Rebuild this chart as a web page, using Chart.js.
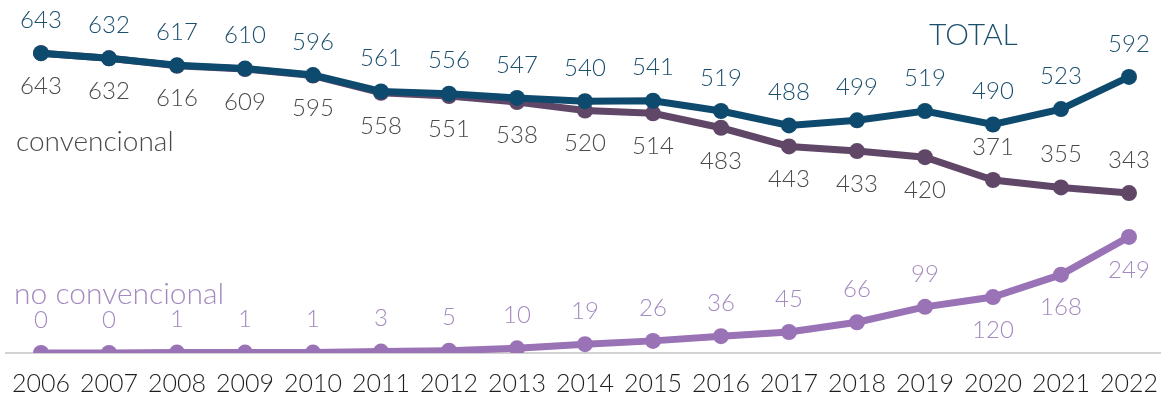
<!DOCTYPE html>
<html>
<head>
<meta charset="utf-8">
<script src="https://cdn.jsdelivr.net/npm/chart.js@4.4.1/dist/chart.umd.min.js"></script>
<style>
  html, body { margin: 0; padding: 0; background: #fff; }
  #wrap { width: 1166px; height: 396px; position: relative; }
</style>
</head>
<body>
<div id="wrap"><canvas id="chart"></canvas></div>
<script>
const years = ['2006', '2007', '2008', '2009', '2010', '2011', '2012', '2013', '2014',
               '2015', '2016', '2017', '2018', '2019', '2020', '2021', '2022'];
const total = [643, 632, 617, 610, 596, 561, 556, 547, 540, 541, 519, 488, 499, 519, 490, 523, 592];
const convencional = [643, 632, 616, 609, 595, 558, 551, 538, 520, 514, 483, 443, 433, 420, 371, 355, 343];
const noConvencional = [0, 0, 1, 1, 1, 3, 5, 10, 19, 26, 36, 45, 66, 99, 120, 168, 249];

// where each value label sits: -1 above the point, +1 below
const totalSide = Array(17).fill(-1);
const convSide = [1, 1, 1, 1, 1, 1, 1, 1, 1, 1, 1, 1, 1, 1, -1, -1, -1];
const noConvSide = [-1, -1, -1, -1, -1, -1, -1, -1, -1, -1, -1, -1, -1, -1, 1, 1, 1];

const FONT = 'Lato, "Open Sans", sans-serif';

const valueLabels = {
    id: 'valueLabels',
    afterDatasetsDraw(chart) {
        const c = chart.ctx;
        c.save();
        c.font = '300 24px ' + FONT;
        c.textAlign = 'center';
        c.textBaseline = 'middle';
        chart.data.datasets.forEach((ds, i) => {
            const meta = chart.getDatasetMeta(i);
            meta.data.forEach((pt, j) => {
                c.fillStyle = ds.labelColor;
                c.fillText(String(ds.data[j]), pt.x, pt.y + ds.labelSide[j] * 33);
            });
        });

        // series names
        c.textAlign = 'left';
        c.font = '300 30px ' + FONT;
        c.fillStyle = '#1b4f6e';
        c.fillText('TOTAL', 929, 35);
        c.font = '300 28px ' + FONT;
        c.fillStyle = '#4a4a4a';
        c.fillText('convencional', 16, 142);
        c.font = '300 30px ' + FONT;
        c.fillStyle = '#a48abf';
        c.fillText('no convencional', 14, 294);
        c.restore();
    },
    beforeDatasetsDraw(chart) {
        // thin grey baseline across the full width
        const c = chart.ctx;
        const y = chart.scales.y.getPixelForValue(0);
        c.save();
        c.strokeStyle = '#d2d2d2';
        c.lineWidth = 2;
        c.beginPath();
        c.moveTo(5, y);
        c.lineTo(chart.width - 5, y);
        c.stroke();
        c.restore();
    }
};

new Chart(document.getElementById('chart'), {
    type: 'line',
    data: {
        labels: years,
        datasets: [
            {
                data: total, borderColor: '#0e4a6d', backgroundColor: '#0e4a6d',
                labelColor: '#1b4f6e', labelSide: totalSide
            },
            {
                data: convencional, borderColor: '#604768', backgroundColor: '#604768',
                labelColor: '#4a4a4a', labelSide: convSide
            },
            {
                data: noConvencional, borderColor: '#9a72b6', backgroundColor: '#9a72b6',
                labelColor: '#a48abf', labelSide: noConvSide
            }
        ]
    },
    options: {
        responsive: true, maintainAspectRatio: false,
        animation: false,
        layout: { autoPadding: false, padding: { left: 41, right: 36, top: 0, bottom: 0 } },
        elements: {
            line: { borderWidth: 7, tension: 0 },
            point: { radius: 8, borderWidth: 0 }
        },
        scales: {
            x: {
                grid: { display: false },
                border: { display: false },
                ticks: { color: '#1e1e1e', font: { size: 25, family: FONT, weight: 300 }, padding: 8, maxRotation: 0, autoSkip: false },
                afterFit: (s) => { s.height = 43; }
            },
            y: { display: false, min: 0, max: 757 }
        },
        plugins: { legend: { display: false }, tooltip: { enabled: false } }
    },
    plugins: [valueLabels]
});
</script>
</body>
</html>
